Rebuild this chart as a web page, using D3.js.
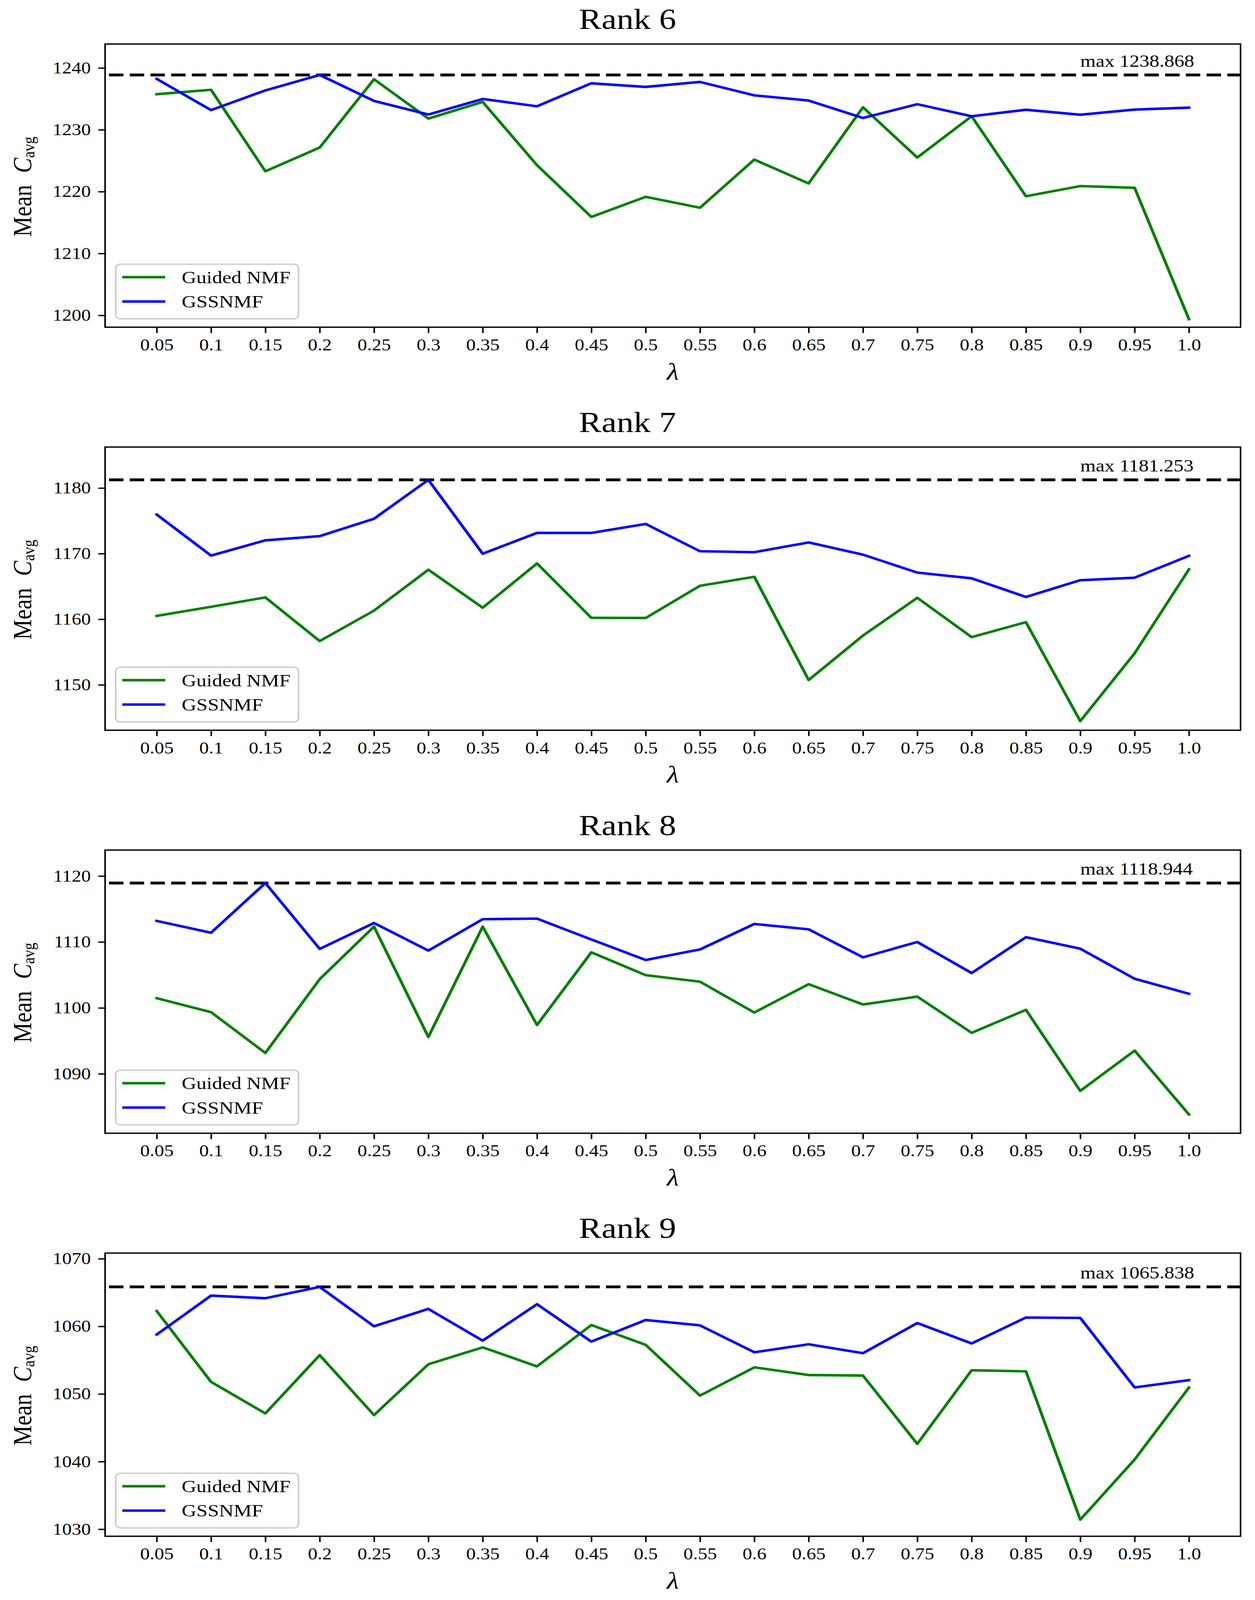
<!DOCTYPE html>
<html>
<head>
<meta charset="utf-8">
<script src="https://cdn.jsdelivr.net/npm/d3@7"></script>
<style>
  html, body { margin: 0; padding: 0; background: #ffffff; overflow: hidden; }
  svg { display: block; }
  text { font-family: "Liberation Serif", "DejaVu Serif", serif; fill: #000; }
</style>
</head>
<body>
<svg id="chart"></svg>
<script>
// ---------- data ----------
const lambdas = [0.05, 0.1, 0.15, 0.2, 0.25, 0.3, 0.35, 0.4, 0.45, 0.5,
                 0.55, 0.6, 0.65, 0.7, 0.75, 0.8, 0.85, 0.9, 0.95, 1.0];
const tickLabels = ["0.05","0.1","0.15","0.2","0.25","0.3","0.35","0.4","0.45","0.5",
                    "0.55","0.6","0.65","0.7","0.75","0.8","0.85","0.9","0.95","1.0"];
const ranks = [6, 7, 8, 9];
const seriesNames = ["Guided NMF", "GSSNMF"];

const guided6 = [1235.75, 1236.47, 1223.29, 1227.13, 1238.17, 1231.81, 1234.51, 1224.28, 1215.91, 1219.16,
                 1217.40, 1225.18, 1221.33, 1233.64, 1225.52, 1232.19, 1219.26, 1220.90, 1220.62, 1199.38];
const gss6    = [1238.23, 1233.18, 1236.37, 1238.868, 1234.67, 1232.47, 1234.98, 1233.80, 1237.52, 1236.93,
                 1237.74, 1235.57, 1234.73, 1231.91, 1234.14, 1232.19, 1233.24, 1232.43, 1233.27, 1233.58];

const guided7 = [1160.51, 1161.90, 1163.33, 1156.67, 1161.32, 1167.55, 1161.76, 1168.51, 1160.22, 1160.19,
                 1165.10, 1166.47, 1150.73, 1157.51, 1163.27, 1157.28, 1159.55, 1144.47, 1154.80, 1167.61];
const gss7    = [1175.96, 1169.70, 1172.03, 1172.67, 1175.32, 1181.253, 1169.99, 1173.16, 1173.16, 1174.53,
                 1170.37, 1170.22, 1171.71, 1169.85, 1167.11, 1166.24, 1163.39, 1165.95, 1166.33, 1169.67];

const guided8 = [1101.48, 1099.36, 1093.17, 1104.36, 1112.33, 1095.58, 1112.33, 1097.41, 1108.43, 1104.97,
                 1103.98, 1099.30, 1103.60, 1100.52, 1101.72, 1096.22, 1099.71, 1087.41, 1093.52, 1083.84];
const gss8    = [1113.20, 1111.40, 1118.944, 1108.95, 1112.88, 1108.69, 1113.46, 1113.55, 1110.38, 1107.27,
                 1108.87, 1112.73, 1111.92, 1107.67, 1110.00, 1105.29, 1110.73, 1108.98, 1104.42, 1102.15];

const guided9 = [1062.27, 1051.79, 1047.13, 1055.74, 1046.88, 1054.39, 1056.90, 1054.08, 1060.20, 1057.27,
                 1049.76, 1053.94, 1052.81, 1052.72, 1042.62, 1053.51, 1053.35, 1031.41, 1040.30, 1050.95];
const gss9    = [1058.79, 1064.55, 1064.16, 1065.838, 1060.01, 1062.58, 1057.89, 1063.28, 1057.75, 1060.94,
                 1060.15, 1056.17, 1057.35, 1056.03, 1060.49, 1057.47, 1061.31, 1061.25, 1050.97, 1052.05];

const maxValues = [1238.868, 1181.253, 1118.944, 1065.838];
const yLower    = [1198.08, 1143.08, 1080.99, 1028.96];
const yHeadroom = 5;

const guidedAll = [guided6, guided7, guided8, guided9];
const gssAll    = [gss6, gss7, gss8, gss9];

// ---------- layout ----------
const W = 3212, H = 4797;
const plotLeft = 269, plotRight = 3175;
const firstTop = 132, panelStep = 1208.3, plotH = 849;
const colors = ["#008000", "#0000ff"];

const vw = window.innerWidth || W;
const vh = window.innerHeight || H;
const svg = d3.select("#chart")
  .attr("width", vw).attr("height", vh)
  .attr("viewBox", `0 0 ${W} ${H}`)
  .attr("preserveAspectRatio", "none");
svg.append("rect").attr("width", W).attr("height", H).attr("fill", "#fff");

const xPad = (lambdas[lambdas.length - 1] - lambdas[0]) * 0.05;
const x = d3.scaleLinear()
  .domain([lambdas[0] - xPad, lambdas[lambdas.length - 1] + xPad])
  .range([plotLeft, plotRight]);

ranks.forEach((rank, k) => {
  const top = firstTop + k * panelStep;
  const bottom = top + plotH;
  const g = svg.append("g");

  const y = d3.scaleLinear()
    .domain([yLower[k], maxValues[k] + yHeadroom])
    .range([bottom, top]);

  // title
  g.append("text")
    .attr("x", W / 2).attr("y", top - 45)
    .attr("text-anchor", "middle")
    .attr("font-size", 87)
    .text("Rank " + rank);

  // dashed max line
  g.append("line")
    .attr("x1", plotLeft).attr("x2", plotRight)
    .attr("y1", y(maxValues[k])).attr("y2", y(maxValues[k]))
    .attr("stroke", "#000").attr("stroke-width", 8.5)
    .attr("stroke-dasharray", "37,16").attr("stroke-dashoffset", 43);

  g.append("text")
    .attr("x", x(0.9)).attr("y", y(maxValues[k]) - 25)
    .attr("font-size", 51)
    .text("max " + maxValues[k].toFixed(3));

  // lines
  const line = d3.line().x((d, i) => x(lambdas[i])).y(d => y(d));
  [guidedAll[k], gssAll[k]].forEach((vals, s) => {
    g.append("path")
      .datum(vals)
      .attr("d", line)
      .attr("fill", "none")
      .attr("stroke", colors[s])
      .attr("stroke-width", 7.5)
      .attr("stroke-linejoin", "round")
      .attr("stroke-linecap", "square");
  });

  // axes
  const xAxis = d3.axisBottom(x)
    .tickValues(lambdas)
    .tickFormat((d, i) => tickLabels[i])
    .tickSize(17.5).tickPadding(17);
  const gx = g.append("g").attr("transform", `translate(0,${bottom})`).call(xAxis);
  const yAxis = d3.axisLeft(y).ticks(5).tickFormat(d3.format("d"))
    .tickSize(17.5).tickPadding(19);
  const gy = g.append("g").attr("transform", `translate(${plotLeft},0)`).call(yAxis);
  [gx, gy].forEach(ax => {
    ax.select(".domain").remove();
    ax.selectAll(".tick line").attr("stroke", "#000").attr("stroke-width", 4);
    ax.selectAll(".tick text")
      .attr("font-family", "Liberation Serif, serif")
      .attr("font-size", 49)
      .attr("fill", "#000");
  });
  gx.selectAll(".tick text").attr("dy", "0.71em");

  // frame
  g.append("rect")
    .attr("x", plotLeft).attr("y", top)
    .attr("width", plotRight - plotLeft).attr("height", plotH)
    .attr("fill", "none").attr("stroke", "#000").attr("stroke-width", 4);

  // x label
  g.append("text")
    .attr("x", (plotLeft + plotRight) / 2).attr("y", bottom + 157)
    .attr("text-anchor", "middle")
    .attr("font-size", 72).attr("font-style", "italic")
    .text("λ");

  // y label
  const yl = g.append("text")
    .attr("transform", `translate(80,${(top + bottom) / 2 + 3}) rotate(-90)`)
    .attr("text-anchor", "middle")
    .attr("font-size", 68);
  yl.append("tspan").text("Mean");
  yl.append("tspan").attr("dx", 36).attr("font-style", "italic").text("C");
  yl.append("tspan").attr("dy", 8).attr("font-size", 44).text("avg");

  // legend
  const lg = g.append("g");
  lg.append("rect")
    .attr("x", 296).attr("y", bottom - 189)
    .attr("width", 468).attr("height", 164)
    .attr("rx", 12).attr("ry", 12)
    .attr("fill", "#fff").attr("fill-opacity", 0.8)
    .attr("stroke", "#cccccc").attr("stroke-width", 4);
  seriesNames.forEach((name, s) => {
    const ly = bottom - 150 + s * 73;
    lg.append("line")
      .attr("x1", 313).attr("x2", 423)
      .attr("y1", ly).attr("y2", ly)
      .attr("stroke", colors[s]).attr("stroke-width", 7.5);
    lg.append("text")
      .attr("x", 465).attr("y", ly + 18)
      .attr("font-size", 52)
      .text(name);
  });
});
</script>
</body>
</html>
